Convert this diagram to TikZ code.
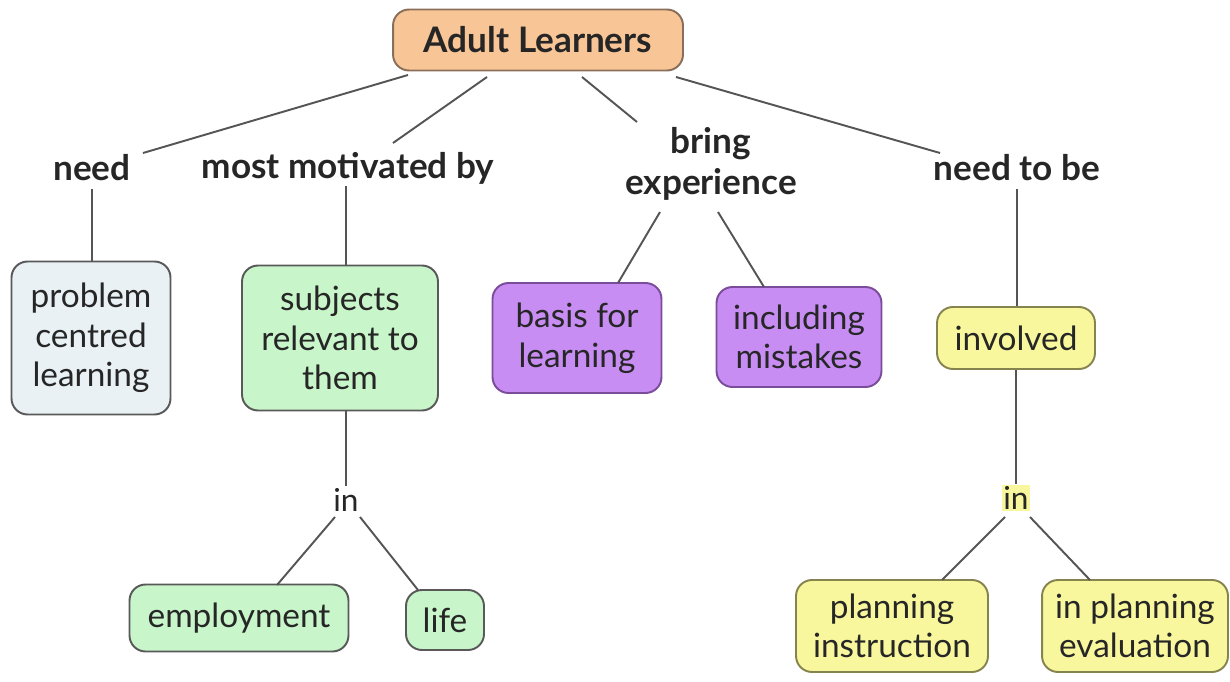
\documentclass[tikz,border=0pt]{standalone}
\usepackage{fontspec}
\setmainfont{Lato}
\definecolor{linegray}{HTML}{555555}
\definecolor{rootfill}{HTML}{F8C597}
\definecolor{rootdraw}{HTML}{8A6E58}
\definecolor{bluefill}{HTML}{E9F1F5}
\definecolor{greenfill}{HTML}{C8F5C9}
\definecolor{purplefill}{HTML}{C78DF3}
\definecolor{purpledraw}{HTML}{7A4C9A}
\definecolor{yellowfill}{HTML}{F9F79D}
\definecolor{yellowdraw}{HTML}{86844E}
\tikzset{
    concept/.style={draw=gray!70!black,line width=1.1pt,rounded corners=0.32cm,align=center,
        inner sep=0pt,text=black!85,font=\fontsize{19}{22.5}\selectfont},
    linkword/.style={align=center,inner sep=1pt,text=black!85,font=\bfseries\fontsize{20}{23.5}\selectfont},
    smallword/.style={align=center,inner sep=1pt,text=black!85,font=\fontsize{18}{22}\selectfont},
    link/.style={draw=linegray,line width=1.1pt}
}
\begin{document}
\begin{tikzpicture}[x=0.02cm,y=-0.02cm]
    \useasboundingbox (0,0) rectangle (1230,682);
    % Draw root concept
    \node[concept,fill=rootfill,draw=rootdraw,minimum width=5.8cm,minimum height=1.22cm,
        font=\bfseries\fontsize{20}{24}\selectfont] (al) at (538,40) {Adult Learners};
    % Draw linking words
    \node[linkword] (need) at (92,168) {need};
    \node[linkword] (mot) at (348,168) {most motivated by};
    \node[linkword] (bring) at (711,164) {bring\\experience};
    \node[linkword] (ntb) at (1017,168) {need to be};
    % Draw concepts of the second row
    \node[concept,fill=bluefill,minimum width=3.18cm,minimum height=3.06cm] (prob) at (91,338) {problem\\centred\\learning};
    \node[concept,fill=greenfill,minimum width=3.92cm,minimum height=2.9cm] (subj) at (340,338) {subjects\\relevant to\\them};
    \node[concept,fill=purplefill,draw=purpledraw,minimum width=3.38cm,minimum height=2.2cm] (basis) at (577,338) {basis for\\learning};
    \node[concept,fill=purplefill,draw=purpledraw,minimum width=3.3cm,minimum height=2.0cm] (incl) at (799,337) {including\\mistakes};
    \node[concept,fill=yellowfill,draw=yellowdraw,minimum width=3.16cm,minimum height=1.24cm] (inv) at (1016,338) {involved};
    % Draw the two "in" words
    \node[smallword] (inL) at (346,500) {in};
    \node[smallword,fill=yellowfill] (inR) at (1016,498) {in};
    % Draw concepts of the bottom row
    \node[concept,fill=greenfill,minimum width=4.38cm,minimum height=1.34cm] (emp) at (239,618) {employment};
    \node[concept,fill=greenfill,minimum width=1.56cm,minimum height=1.2cm] (life) at (445,620) {life};
    \node[concept,fill=yellowfill,draw=yellowdraw,minimum width=3.84cm,minimum height=1.84cm] (plan) at (892,626) {planning\\instruction};
    \node[concept,fill=yellowfill,draw=yellowdraw,minimum width=3.72cm,minimum height=1.84cm] (eval) at (1135,626) {in planning\\evaluation};
    % Draw links from the root
    \draw[link] ([shift={(-130,35)}]al.center) -- ([shift={(51,-15)}]need.center);
    \draw[link] ([shift={(-51,37)}]al.center) -- ([shift={(45,-25)}]mot.center);
    \draw[link] ([shift={(44,37)}]al.center) -- ([shift={(-74,-42)}]bring.center);
    \draw[link] ([shift={(138,37)}]al.center) -- ([shift={(-77,-15)}]ntb.center);
    % Draw links to the second row
    \draw[link] ([yshift=-3pt]need.south) -- (need.south |- prob.north);
    \draw[link] ([shift={(-2,0)}]mot.south) -- ([shift={(-2,0)}]mot.south |- subj.north);
    \draw[link] ([shift={(-51,48)}]bring.center) -- ([shift={(41,-55)}]basis.center);
    \draw[link] ([shift={(7,48)}]bring.center) -- ([shift={(-35,-50)}]incl.center);
    \draw[link] ([yshift=-3pt]ntb.south) -- (ntb.south |- inv.north);
    % Draw links to the bottom row
    \draw[link] ([xshift=0.12cm]subj.south) -- ([xshift=0.12cm]subj.south |- inL.north);
    \draw[link] ([shift={(-11,17)}]inL.center) -- ([shift={(38,-33)}]emp.center);
    \draw[link] ([shift={(14,17)}]inL.center) -- ([shift={(-27,-30)}]life.center);
    \draw[link] (inv.south) -- (inv.south |- inR.north);
    \draw[link] ([shift={(-11,19)}]inR.center) -- ([shift={(50,-46)}]plan.center);
    \draw[link] ([shift={(14,19)}]inR.center) -- ([shift={(-45,-46)}]eval.center);
\end{tikzpicture}
\end{document}
